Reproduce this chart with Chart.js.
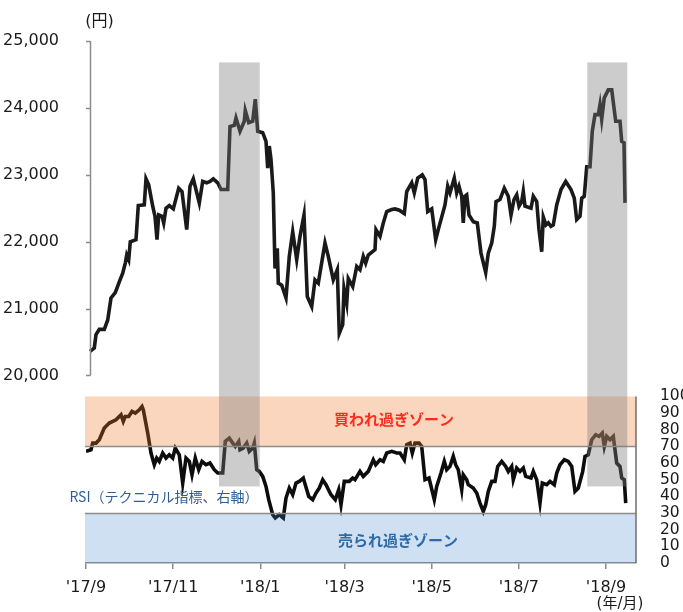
<!DOCTYPE html>
<html>
<head>
<meta charset="utf-8">
<script src="https://cdn.jsdelivr.net/npm/chart.js@4.4.1/dist/chart.umd.min.js"></script>
<style>
  html, body { margin: 0; padding: 0; background: #fff; }
  #wrap { width: 683px; height: 612px; position: relative; }
</style>
</head>
<body>
<div id="wrap"><canvas id="c"></canvas></div>
<script>
// ---- data (x = calendar days from the '17/9 tick) ----
const tickDays   = [0, 61, 122, 181, 242, 303, 364];
const tickLabels = ["'17/9", "'17/11", "'18/1", "'18/3", "'18/5", "'18/7", "'18/9"];
const priceTicks = [20000, 21000, 22000, 23000, 24000, 25000];
const rsiTicks   = [0, 10, 20, 30, 40, 50, 60, 70, 80, 90, 100];

const priceDays = [2.8,5.8,7,9.3,12.8,15.2,17.5,20.5,23.3,25.7,27.5,28.5,29.9,31,35,36.6,40.8,42,43.9,46.7,
  48.3,49.7,50.9,53.2,54.4,56,58.3,61.1,64.9,67.2,70.5,72.8,75.1,79.3,81.7,84.5,86.8,89.1,92.2,94.5,
  99.2,100.8,103.8,105,107.8,110.8,111.5,113.9,116.7,118.5,120.2,123.7,126,127.2,128.3,129.5,131.1,132.3,133.9,134.6,
  137,140,142.3,144.7,147.5,149.8,152.6,154.9,158,160.3,162.6,167.3,169.6,173.1,175.9,177.3,179.7,180.6,182.5,183.6,
  186.7,189.5,191.8,194.1,195.8,197.6,202.3,203,205.8,208.1,210.5,214,216.3,219.3,222.8,224.5,228,229.8,232.2,235.4,
  237.3,239.2,242,244.8,246.6,251.3,253.2,254.8,257.8,259.5,261.1,263,264.1,265.3,266.5,268.1,271.1,273.9,276.5,279.8,
  281.6,284,285.8,287,289.8,292.8,295.6,297.5,299.6,301.5,303.1,305,306.1,307.3,311.5,313.1,315.5,317.1,319,320.1,
  322,323.6,325.5,327.1,329.5,332.5,335.8,339.5,341.8,343.5,345.8,347,348.8,350.5,352.8,354.4,356.3,358.6,359.8,361,
  362.8,365.6,368,370.8,373.8,375,376.6,377.3];
const priceValues = [20360,20410,20610,20690,20690,20830,21160,21240,21400,21530,21680,21800,21730,22000,22030,22540,22550,22940,22850,22530,
  22380,22030,22400,22380,22280,22500,22540,22490,22800,22750,22180,22830,22940,22580,22900,22880,22900,22940,22880,22780,
  22780,23720,23740,23850,23650,23800,23960,23780,23800,24130,23650,23630,23500,23100,23430,23230,22730,21600,21900,21380,
  21350,21160,21780,22150,21730,22080,22400,21180,21030,21430,21380,21980,21780,21430,21580,20630,20760,21300,21080,21450,
  21330,21630,21580,21780,21680,21800,21880,22180,22080,22280,22450,22480,22490,22470,22420,22750,22880,22730,22950,23000,
  22930,22450,22490,22030,22180,22550,22830,22730,22950,22730,22830,22680,22280,22680,22700,22400,22300,22280,21830,21540,
  21830,21980,22230,22600,22630,22800,22680,22400,22630,22700,22530,22600,22750,22530,22500,22680,22600,22180,21850,22370,
  22250,22280,22230,22250,22550,22780,22900,22780,22650,22330,22380,22650,22680,23120,23120,23650,23900,23900,24050,23830,
  24150,24270,24270,23800,23800,23500,23480,22580];

const rsiDays = [0,3.5,4.7,7,9.3,12.8,16.3,21,24.5,26.1,27.5,29.9,32.2,34.5,37.3,39.2,40.1,43.2,45.5,47.8,
  49.5,51.3,53.7,56,58.3,60.7,62.5,65.3,67.7,70,72.3,74.2,76.5,78.9,81.2,84,86.8,89.8,92.2,95.7,
  97.5,100.3,102.7,104.5,106.9,107.8,110.1,112.5,114.3,116.7,117.8,119.5,121.3,123.7,126,127.9,130.7,132.5,135.3,138.1,
  140,142.3,144.7,147,149.3,152.1,155.9,158.7,161,163.3,165.7,168,171.5,174.5,176.9,178.5,180.8,184.3,186.7,188.3,
  191.8,194.1,197.6,201.1,202.8,205.8,208.1,210.5,214,217.5,219.8,222.8,224.5,226.8,228.4,230.3,233.1,235,237.3,240.1,
  243.8,245.5,248.5,250.8,252.5,254.8,257.1,258.8,260.6,263,264.1,266.5,267.6,271.1,273.5,275.8,278.1,279.8,281.6,284,
  286.3,288.2,291,293.8,295.6,298,299.1,301.5,303.8,306.1,307.8,311.5,313.1,315.5,317.8,319.4,322.5,324.8,327.8,329.5,
  331.8,334.8,337.6,340,342.3,344.6,347.7,349.3,351.6,354,356.8,359.1,361.4,362.8,364.5,366.8,369.1,371.5,373.8,375,
  376.8,377.8];
const rsiValues = [67,68,72,72,74,81,84,86,89,85,88,88,91,90,92,94,92,78,66,59,
  63,61,66,63,65,63,69,65,48,63,61,53,63,56,61,59,60,56,54,54,
  73,75,72,70,73,68,69,72,67,69,72,56,55,52,46,38,29,27,29,27,
  39,45,41,48,49,51,40,38,42,45,50,47,41,38,44,35,49,49,51,50,
  55,52,55,62,59,62,61,66,67,66,66,62,71,72,66,72,72,70,50,51,
  38,46,54,61,56,58,64,59,56,44,53,50,47,45,42,36,31,35,43,49,
  49,58,61,58,55,58,50,57,55,57,52,51,55,50,36,48,47,49,47,54,
  59,62,61,58,43,45,55,64,65,74,77,76,78,70,76,74,76,60,58,51,
  50,36];

const overboughtZone = [70, 100];
const oversoldZone   = [0, 30];
const shadeRanges    = [[93.1, 121.6], [350.9, 378.9]];
const shadeTopPrice  = 24680;
const shadeBottomRsi = 46;

// ---- chart ----
const FONT = "'DejaVu Sans', 'Noto Sans CJK JP', sans-serif";
const JFONT = "'Noto Sans CJK JP', 'DejaVu Sans', sans-serif";

const decor = {
  id: 'decor',
  afterDatasetsDraw(chart) {
    const { ctx, chartArea: a, scales } = chart;
    const x = scales.x, y = scales.y, r = scales.y2;
    ctx.save();
    // zones (translucent, drawn over the RSI line)
    ctx.fillStyle = 'rgba(240,120,40,0.3)';
    ctx.fillRect(a.left - 1, r.getPixelForValue(overboughtZone[1]), a.right - a.left + 1,
      r.getPixelForValue(overboughtZone[0]) - r.getPixelForValue(overboughtZone[1]));
    ctx.fillStyle = 'rgba(60,130,200,0.25)';
    ctx.fillRect(a.left - 1, r.getPixelForValue(oversoldZone[1]), a.right - a.left + 1,
      r.getPixelForValue(oversoldZone[0]) - r.getPixelForValue(oversoldZone[1]));
    // zone boundary lines
    ctx.strokeStyle = '#8c8c8c';
    ctx.lineWidth = 1.5;
    [overboughtZone[0], oversoldZone[1]].forEach(v => {
      const py = Math.round(r.getPixelForValue(v)) + 0.5;
      ctx.beginPath(); ctx.moveTo(a.left - 1, py); ctx.lineTo(a.right, py); ctx.stroke();
    });
    // grey shading
    ctx.fillStyle = 'rgba(124,124,124,0.39)';
    shadeRanges.forEach(s => {
      const x1 = x.getPixelForValue(s[0]), x2 = x.getPixelForValue(s[1]);
      const t = y.getPixelForValue(shadeTopPrice), b = r.getPixelForValue(shadeBottomRsi);
      ctx.fillRect(x1, t, x2 - x1, b - t);
    });
    // right (RSI) axis line
    ctx.strokeStyle = '#6e6e6e';
    ctx.lineWidth = 1.5;
    ctx.beginPath();
    ctx.moveTo(a.right, r.getPixelForValue(rsiTicks[rsiTicks.length - 1]));
    ctx.lineTo(a.right, a.bottom);
    ctx.stroke();
    // left (price) axis line + tick marks
    const ax = Math.round(x.getPixelForValue(priceDays[0])) + 0.5;
    ctx.strokeStyle = '#8c8c8c';
    ctx.beginPath();
    ctx.moveTo(ax, y.getPixelForValue(priceTicks[priceTicks.length - 1]));
    ctx.lineTo(ax, y.getPixelForValue(priceTicks[0]));
    ctx.stroke();
    priceTicks.forEach(v => {
      const py = Math.round(y.getPixelForValue(v)) + 0.5;
      ctx.beginPath(); ctx.moveTo(ax - 4.5, py); ctx.lineTo(ax, py); ctx.stroke();
    });
    // texts
    ctx.textAlign = 'center';
    ctx.textBaseline = 'middle';
    ctx.fillStyle = '#1a1a1a';
    ctx.font = '16px ' + FONT;
    ctx.fillText('(円)', ax + 9, y.getPixelForValue(25000) - 19);
    ctx.font = '15px ' + FONT;
    ctx.fillText('(年/月)', a.right - 16, a.bottom + 41);
    ctx.font = 'bold 15px ' + JFONT;
    ctx.fillStyle = '#ff2a1a';
    ctx.fillText('買われ過ぎゾーン', (a.left + a.right) / 2 + 33, r.getPixelForValue(86));
    ctx.fillStyle = '#2e6aa6';
    ctx.fillText('売られ過ぎゾーン', (a.left + a.right) / 2 + 37, r.getPixelForValue(13.5));
    ctx.font = '14px ' + JFONT;
    ctx.fillStyle = '#2f5f92';
    ctx.fillText('RSI（テクニカル指標、右軸）', a.left + 78, r.getPixelForValue(40));
    ctx.restore();
  }
};

new Chart(document.getElementById('c'), {
  type: 'line',
  data: {
    datasets: [
      {
        label: 'price',
        data: priceDays.map((d, i) => ({ x: d, y: priceValues[i] })),
        yAxisID: 'y',
        borderColor: '#1a1a1a',
        borderWidth: 3.6,
        pointRadius: 0,
        tension: 0,
        fill: false
      },
      {
        label: 'RSI',
        data: rsiDays.map((d, i) => ({ x: d, y: rsiValues[i] })),
        yAxisID: 'y2',
        borderColor: '#0d0d0d',
        borderWidth: 3.6,
        pointRadius: 0,
        tension: 0,
        fill: false
      }
    ]
  },
  options: {
    responsive: true,
    maintainAspectRatio: false,
    animation: false,
    layout: { padding: { top: 41, left: 0, right: 0, bottom: 0 } },
    plugins: { legend: { display: false }, tooltip: { enabled: false } },
    scales: {
      x: {
        type: 'linear',
        position: 'bottom',
        min: 0,
        max: 385,
        afterFit(s) { s.height = 49; },
        afterBuildTicks(s) { s.ticks = tickDays.map(v => ({ value: v })); },
        ticks: {
          autoSkip: false,
          maxRotation: 0,
          padding: 9,
          color: '#1a1a1a',
          font: { family: FONT, size: 16 },
          callback: (v, i) => tickLabels[i]
        },
        grid: { display: true, drawOnChartArea: false, drawTicks: true, tickLength: 6, color: '#8c8c8c', lineWidth: 1.5 },
        border: { display: true, color: '#8c8c8c', width: 1.5 }
      },
      y: {
        type: 'linear',
        position: 'left',
        min: 17197,
        max: 25000,
        afterFit(s) { s.width = 86; },
        afterBuildTicks(s) { s.ticks = priceTicks.map(v => ({ value: v })); },
        ticks: {
          autoSkip: false,
          padding: 19,
          color: '#1a1a1a',
          font: { family: FONT, size: 16 },
          callback: v => v.toLocaleString('en-US')
        },
        grid: { display: false },
        border: { display: false }
      },
      y2: {
        type: 'linear',
        position: 'right',
        min: 0,
        max: 313.4,
        afterFit(s) { s.width = 47; },
        afterBuildTicks(s) { s.ticks = rsiTicks.map(v => ({ value: v })); },
        ticks: {
          autoSkip: false,
          padding: 16,
          color: '#1a1a1a',
          font: { family: FONT, size: 15.5 },
          callback: v => String(v)
        },
        grid: { display: false },
        border: { display: false }
      }
    }
  },
  plugins: [decor]
});
</script>
</body>
</html>
